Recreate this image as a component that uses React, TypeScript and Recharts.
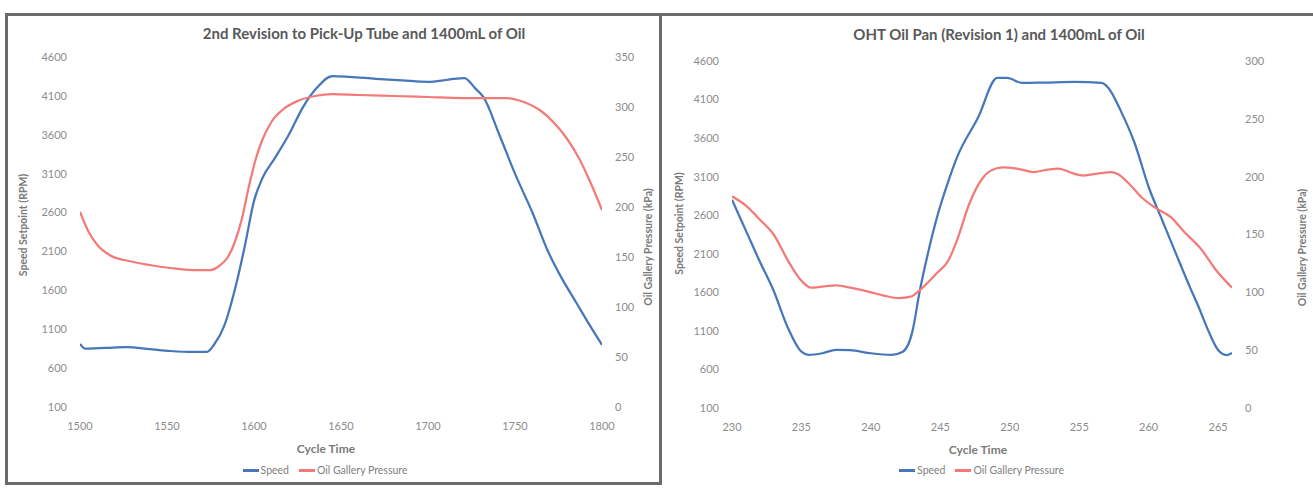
import React from 'react';
import { LineChart, Line, XAxis, YAxis, Legend } from 'recharts';

const FONT = 'Lato, "Open Sans", sans-serif';
const BLUE = '#4677BA';
const RED = '#F27B78';

// ---------- Left chart: 2nd Revision to Pick-Up Tube ----------
const LEFT_TITLE = '2nd Revision to Pick-Up Tube and 1400mL of Oil';
const LEFT_X_TICKS = [1500, 1550, 1600, 1650, 1700, 1750, 1800];
const LEFT_SPEED_TICKS = [100, 600, 1100, 1600, 2100, 2600, 3100, 3600, 4100, 4600];
const LEFT_PRESSURE_TICKS = [0, 50, 100, 150, 200, 250, 300, 350];

const LEFT_SPEED_TIME = [1500, 1503, 1515, 1527, 1540, 1552, 1565, 1573, 1577, 1583, 1590, 1595, 1600, 1605, 1612, 1620, 1628, 1636, 1645, 1655, 1670, 1685, 1700, 1712, 1721, 1727, 1732, 1741, 1750, 1760, 1769, 1777, 1785, 1793, 1800];
const LEFT_SPEED = [910, 850, 860, 870, 845, 820, 808, 808, 900, 1150, 1700, 2200, 2750, 3050, 3300, 3600, 3950, 4200, 4355, 4345, 4320, 4300, 4280, 4310, 4330, 4200, 4080, 3600, 3100, 2600, 2100, 1750, 1450, 1150, 900];

const LEFT_PRESSURE_TIME = [1500, 1505, 1510, 1518, 1528, 1540, 1552, 1565, 1575, 1580, 1585, 1589, 1593, 1597, 1601, 1605, 1610, 1617, 1625, 1635, 1645, 1660, 1680, 1700, 1720, 1745, 1755, 1765, 1772, 1780, 1787, 1794, 1800];
const LEFT_PRESSURE = [195, 175, 162, 151, 146, 142, 139, 137, 137, 141, 150, 165, 188, 220, 248, 268, 285, 298, 306, 311, 313, 312, 311, 310, 309, 309, 305, 296, 285, 268, 248, 222, 197];

// ---------- Right chart: OHT Oil Pan (Revision 1) ----------
const RIGHT_TITLE = 'OHT Oil Pan (Revision 1) and 1400mL of Oil';
const RIGHT_X_TICKS = [230, 235, 240, 245, 250, 255, 260, 265];
const RIGHT_SPEED_TICKS = [100, 600, 1100, 1600, 2100, 2600, 3100, 3600, 4100, 4600];
const RIGHT_PRESSURE_TICKS = [0, 50, 100, 150, 200, 250, 300];

const RIGHT_SPEED_TIME = [230, 231, 232, 233, 234, 235, 235.5, 236.5, 237.5, 238.5, 240, 241.5, 242.3, 243, 243.5, 244.1, 244.8, 245.5, 246.2, 247.7, 249.1, 249.8, 250.9, 252.5, 254.7, 256.6, 257.1, 258, 259, 260, 261, 262, 263, 263.6, 264.3, 265, 265.6, 266];
const RIGHT_SPEED = [2800, 2400, 2000, 1620, 1150, 830, 790, 810, 855, 850, 810, 790, 830, 1100, 1600, 2100, 2600, 3000, 3350, 3860, 4380, 4380, 4315, 4320, 4328, 4315, 4250, 3950, 3530, 2966, 2525, 2085, 1655, 1410, 1100, 852, 787, 813];

const RIGHT_PRESSURE_TIME = [230, 231, 232, 233, 234, 235, 235.7, 236.5, 237.5, 238.5, 240, 241, 242, 242.8, 243.8, 244.7, 245.6, 246.2, 247.1, 248, 248.6, 249.5, 250.5, 251.7, 252.7, 253.5, 254.5, 255.3, 256.5, 257.3, 257.8, 258.5, 259.5, 260.5, 261.6, 262.5, 263.8, 264.8, 266];
const RIGHT_PRESSURE = [183, 175, 163, 150, 128, 110, 104, 105, 106, 104, 100, 97, 95, 96, 105, 116, 128, 145, 177, 198, 205, 208, 207, 204, 206, 207, 203, 201, 203, 204, 202, 195, 182, 173, 165, 153, 137, 120, 104];

const LEGEND_ORDER = ['Speed', 'Oil Gallery Pressure'];

const zip = (xs: number[], ys: number[]) => xs.map((t, i) => ({ t, v: ys[i] }));

const tickStyle = { fontFamily: FONT, fontSize: 11, fill: '#8c8c8c' };

const makeTitle = (value: string, dx: number, dy: number, angle: number, size: number) => (props: any) => {
  const vb = props.viewBox || {};
  const cx = vb.x + vb.width / 2 + dx;
  const cy = vb.y + vb.height / 2 + dy;
  return (
    <text
      x={cx}
      y={cy}
      transform={angle ? `rotate(${angle} ${cx} ${cy})` : undefined}
      textAnchor="middle"
      dominantBaseline="central"
      style={{ fontFamily: FONT, fontSize: size, fontWeight: 700, fill: '#7a7a7a' }}
    >
      {value}
    </text>
  );
};

const renderLegend = (props: any) => {
  const payload = [...(props.payload || [])].sort(
    (a: any, b: any) => LEGEND_ORDER.indexOf(a.value) - LEGEND_ORDER.indexOf(b.value)
  );
  return (
    <div
      style={{
        height: 20,
        display: 'flex',
        justifyContent: 'center',
        alignItems: 'center',
        fontFamily: FONT,
        fontSize: 10.5,
        color: '#808080',
      }}
    >
      {payload.map((entry: any) => (
        <span key={entry.value} style={{ display: 'inline-flex', alignItems: 'center', marginRight: 10 }}>
          <span style={{ display: 'inline-block', width: 16, height: 3, background: entry.color, marginRight: 2 }} />
          {entry.value}
        </span>
      ))}
    </div>
  );
};

type PanelProps = {
  width: number;
  marginTop: number;
  xAxisHeight: number;
  leftWidth: number;
  rightWidth: number;
  xDomain: [number, number];
  xTicks: number[];
  speedTicks: number[];
  pressureTicks: number[];
  speed: { t: number; v: number }[];
  pressure: { t: number; v: number }[];
  xTitleDx: number;
  leftTitle: [number, number];
  rightTitle: [number, number];
};

const Panel = (p: PanelProps) => (
  <LineChart width={p.width} height={488} margin={{ top: p.marginTop, right: 0, bottom: 8, left: 0 }}>
    <XAxis
      dataKey="t"
      type="number"
      domain={p.xDomain}
      ticks={p.xTicks}
      allowDataOverflow
      height={p.xAxisHeight}
      axisLine={false}
      tickLine={false}
      tickMargin={9}
      tick={tickStyle}
      label={makeTitle('Cycle Time', p.xTitleDx, 15, 0, 12)}
    />
    <YAxis
      yAxisId="speed"
      orientation="left"
      dataKey="v"
      domain={[100, 4600]}
      ticks={p.speedTicks}
      width={p.leftWidth}
      axisLine={false}
      tickLine={false}
      tickMargin={7}
      tick={tickStyle}
      label={makeTitle('Speed Setpoint (RPM)', p.leftTitle[0], p.leftTitle[1], -90, 10.5)}
    />
    <YAxis
      yAxisId="pressure"
      orientation="right"
      dataKey="v"
      domain={[p.pressureTicks[0], p.pressureTicks[p.pressureTicks.length - 1]]}
      ticks={p.pressureTicks}
      width={p.rightWidth}
      axisLine={false}
      tickLine={false}
      tickMargin={7}
      tick={tickStyle}
      label={makeTitle('Oil Gallery Pressure (kPa)', p.rightTitle[0], p.rightTitle[1], -90, 10.5)}
    />
    <Legend verticalAlign="bottom" align="center" content={renderLegend} />
    <Line
      yAxisId="speed"
      data={p.speed}
      dataKey="v"
      name="Speed"
      type="monotone"
      stroke={BLUE}
      strokeWidth={2.25}
      dot={false}
      isAnimationActive={false}
    />
    <Line
      yAxisId="pressure"
      data={p.pressure}
      dataKey="v"
      name="Oil Gallery Pressure"
      type="monotone"
      stroke={RED}
      strokeWidth={2.25}
      dot={false}
      isAnimationActive={false}
    />
  </LineChart>
);

const titleStyle = (center: number, top: number): React.CSSProperties => ({
  position: 'absolute',
  left: center - 300,
  top,
  width: 600,
  textAlign: 'center',
  fontFamily: FONT,
  fontWeight: 700,
  fontSize: 15,
  lineHeight: '18px',
  color: '#595959',
});

export default function App() {
  return (
    <div style={{ position: 'absolute', left: 0, top: 0, width: 1313, height: 488, background: '#fff', overflow: 'hidden' }}>
      <div
        style={{
          position: 'absolute',
          left: 5,
          top: 13,
          width: 657,
          height: 472,
          border: '3px solid #6b6b6b',
          boxSizing: 'border-box',
        }}
      />
      <div style={{ position: 'absolute', left: 662, top: 13, width: 651, height: 3, background: '#6b6b6b' }} />

      <div style={{ position: 'absolute', left: 0, top: 0 }}>
        <Panel
          width={660}
          marginTop={57}
          xAxisHeight={53}
          leftWidth={80}
          rightWidth={58}
          xDomain={[1500, 1800]}
          xTicks={LEFT_X_TICKS}
          speedTicks={LEFT_SPEED_TICKS}
          pressureTicks={LEFT_PRESSURE_TICKS}
          speed={zip(LEFT_SPEED_TIME, LEFT_SPEED)}
          pressure={zip(LEFT_PRESSURE_TIME, LEFT_PRESSURE)}
          xTitleDx={-15}
          leftTitle={[-17, -7]}
          rightTitle={[17, 15]}
        />
      </div>
      <div style={{ position: 'absolute', left: 660, top: 0 }}>
        <Panel
          width={653}
          marginTop={61}
          xAxisHeight={52}
          leftWidth={72}
          rightWidth={81}
          xDomain={[230, 266]}
          xTicks={RIGHT_X_TICKS}
          speedTicks={RIGHT_SPEED_TICKS}
          pressureTicks={RIGHT_PRESSURE_TICKS}
          speed={zip(RIGHT_SPEED_TIME, RIGHT_SPEED)}
          pressure={zip(RIGHT_PRESSURE_TIME, RIGHT_PRESSURE)}
          xTitleDx={-4}
          leftTitle={[-17, -11]}
          rightTitle={[29, 13]}
        />
      </div>

      <div style={titleStyle(364, 24)}>{LEFT_TITLE}</div>
      <div style={titleStyle(999, 25)}>{RIGHT_TITLE}</div>
    </div>
  );
}
